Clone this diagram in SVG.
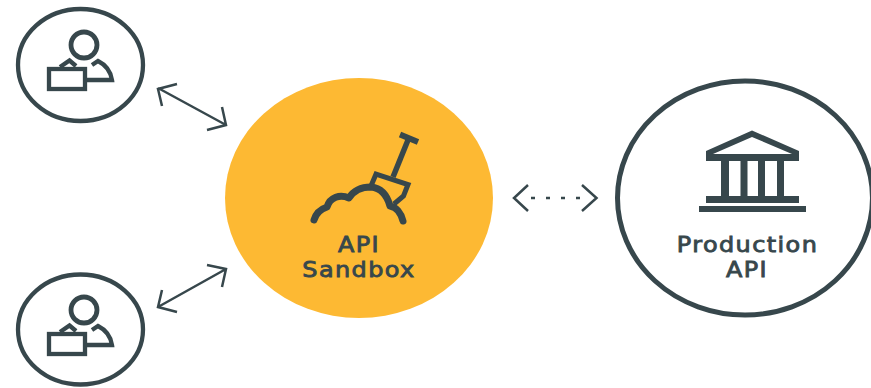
<svg xmlns="http://www.w3.org/2000/svg" width="871" height="388" viewBox="0 0 871 388">
<style>
.l{fill:none;stroke:#37474c;stroke-width:4.300;stroke-linejoin:miter}
.a{fill:none;stroke:#37474c;stroke-width:2.500}
.s{fill:none;stroke:#37474c}
.d{fill:#37474c}
.t{font-family:"DejaVu Sans",sans-serif;font-size:21.400px;fill:#37474c;stroke:#37474c;stroke-width:.85px;text-anchor:middle;letter-spacing:1.250px}
</style>
<defs>
<g id="user">
<circle cx="84" cy="45" r="13" class="l" style="stroke-width:4.800"/>
<path d="M60 67 L69.500 60.500 L76 66" class="l"/>
<path d="M92 65 L98 61 Q110 67 112 80 L87 80" class="l"/>
<rect x="49" y="69" width="36" height="20" class="l"/>
</g>
</defs>
<rect width="871" height="388" fill="#fff"/>
<g id="connectors">
<path class="a" d="M158 88 L226 125 M177 84 L158 89 L162 106 M207 130 L226 125 L222 107"/>
<path class="a" d="M158 307 L226 269 M177 312 L158 307 L162 290 M207 265 L226 269 L222 287"/>
<path class="a" d="M531 198 H582" stroke-dasharray="4 11"/>
<path class="a" d="M528 185 L514 198 L528 211 M582 185 L596.500 198 L582 211"/>
</g>
<g id="user-top">
<ellipse cx="80.500" cy="65" rx="62.500" ry="56" class="l"/>
<use href="#user"/>
</g>
<g id="user-bottom">
<ellipse cx="80.500" cy="329.500" rx="62.500" ry="55" class="l"/>
<use href="#user" y="265"/>
</g>
<g id="api-sandbox">
<ellipse cx="359" cy="198" rx="134" ry="120" fill="#fdb933"/>
<path class="s" d="M314 220 C316 213 321 209 327 207 C330 197 340 194 349 198 C354 190 362 187 371 187 C381 188 387 195 390 206 C396 207 401 213 403 221" stroke-width="7" stroke-linecap="round" stroke-linejoin="round"/>
<path class="s" d="M371 186 L376 174 L408 184.500 L403.500 196 L394 204" stroke-width="5"/>
<path class="s" d="M393 177 L408 140" stroke-width="5.500"/>
<path class="s" d="M400 134.500 L418 142" stroke-width="6"/>
<text class="t" transform="translate(359 252) scale(1.12 1)">API</text>
<text class="t" transform="translate(359 277) scale(1.12 1)">Sandbox</text>
</g>
<g id="production-api">
<ellipse cx="745" cy="198" rx="127.500" ry="117" fill="#fff" stroke="#37474c" stroke-width="5"/>
<path class="d" fill-rule="evenodd" d="M752 130.500 L799 151 V161 H706 V151 Z M752 137 L713 154 H792 Z"/>
<path class="d" d="M721 160 h8 v37 h-8 Z M740.500 160 h7 v37 h-7 Z M758 160 h7 v37 h-7 Z M777 160 h7 v37 h-7 Z"/>
<rect class="d" x="706" y="196" width="93" height="7"/>
<rect class="d" x="699" y="206" width="107" height="6"/>
<text class="t" transform="translate(747.500 252) scale(1.12 1)">Production</text>
<text class="t" transform="translate(747 277) scale(1.12 1)">API</text>
</g>
</svg>
